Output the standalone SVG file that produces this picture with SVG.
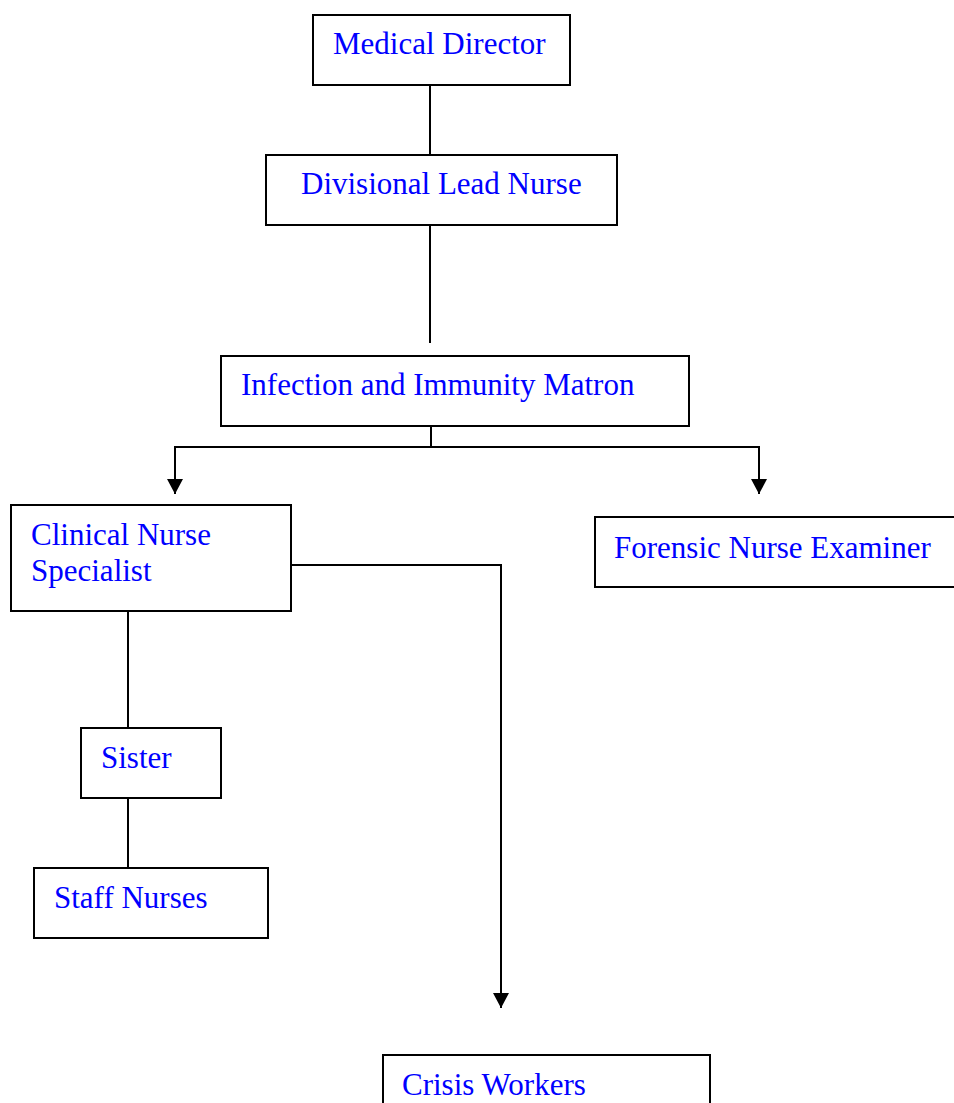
<svg xmlns="http://www.w3.org/2000/svg" width="954" height="1103" viewBox="0 0 954 1103">
<defs>
<style>
.box{fill:#fff;stroke:#000;stroke-width:2}
.lbl{font-family:"Liberation Serif","Times New Roman",serif;font-size:31px;fill:#0000ff}
.con{fill:none;stroke:#000;stroke-width:2}
</style>
<marker id="arr" viewBox="0 0 15 16" markerWidth="15" markerHeight="16" refX="15" refY="8" orient="auto" markerUnits="userSpaceOnUse">
<path d="M0,0 L15,8 L0,16 Z" fill="#000"/>
</marker>
</defs>
<rect width="954" height="1103" fill="#fff"/>
<g id="connectors">
<line class="con" x1="430" y1="85" x2="430" y2="155"/>
<line class="con" x1="430" y1="225" x2="430" y2="343"/>
<polyline class="con" points="431,426 431,447"/>
<polyline class="con" points="431,447 175,447 175,494" marker-end="url(#arr)"/>
<polyline class="con" points="431,447 759,447 759,494" marker-end="url(#arr)"/>
<polyline class="con" points="291,565 501,565 501,1008" marker-end="url(#arr)"/>
<line class="con" x1="128" y1="611" x2="128" y2="728"/>
<line class="con" x1="128" y1="798" x2="128" y2="868"/>
</g>
<g id="medical-director">
<rect class="box" x="313" y="15" width="257" height="70"/>
<text class="lbl" x="333" y="54">Medical Director</text>
</g>
<g id="divisional-lead-nurse">
<rect class="box" x="266" y="155" width="351" height="70"/>
<text class="lbl" x="301" y="194">Divisional Lead Nurse</text>
</g>
<g id="matron">
<rect class="box" x="221" y="356" width="468" height="70"/>
<text class="lbl" x="241" y="395">Infection and Immunity Matron</text>
</g>
<g id="clinical-nurse-specialist">
<rect class="box" x="11" y="505" width="280" height="106"/>
<text class="lbl" x="31" y="545">Clinical Nurse</text>
<text class="lbl" x="31" y="581">Specialist</text>
</g>
<g id="forensic-nurse-examiner">
<rect class="box" x="595" y="517" width="370" height="70"/>
<text class="lbl" x="614" y="558">Forensic Nurse Examiner</text>
</g>
<g id="sister">
<rect class="box" x="81" y="728" width="140" height="70"/>
<text class="lbl" x="101" y="768">Sister</text>
</g>
<g id="staff-nurses">
<rect class="box" x="34" y="868" width="234" height="70"/>
<text class="lbl" x="54" y="908">Staff Nurses</text>
</g>
<g id="crisis-workers">
<rect class="box" x="383" y="1055" width="327" height="70"/>
<text class="lbl" x="402" y="1095">Crisis Workers</text>
</g>
</svg>
